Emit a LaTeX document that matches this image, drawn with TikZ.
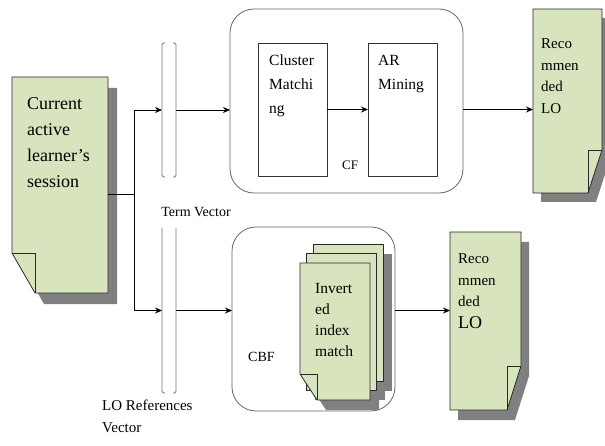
\documentclass[tikz,border=0pt]{standalone}
\usepackage{fontspec}
\setmainfont{Liberation Serif}
\usetikzlibrary{arrows.meta,calc}
\definecolor{lofill}{RGB}{215,228,189}
\definecolor{loshadow}{RGB}{128,128,128}
\definecolor{loline}{RGB}{40,40,40}
\tikzset{
  docframe/.style={rectangle, inner sep=0pt, outer sep=0pt},
  docbody/.style={fill=lofill, draw=loline, line width=.8pt},
  docshade/.style={fill=loshadow, draw=none},
  roundbox/.style={draw=black!60, line width=.8pt, rounded corners=24pt, fill=white, inner sep=0pt, outer sep=0pt},
  stepbox/.style={draw=black!80, line width=.8pt, fill=white, inner sep=0pt, outer sep=0pt},
  doctext/.style={anchor=north west, inner sep=0pt, align=left},
  vecline/.style={draw=black!55, line width=.9pt, rounded corners=1.5pt},
  link/.style={->, line width=.8pt},
}
\begin{document}
\begin{tikzpicture}[x=1pt, y=1pt, line join=round, >={Stealth[length=7pt,width=6pt]}]
\useasboundingbox (0,0) rectangle (605,445);
% frames and boxes
\node[docframe, minimum width=96pt, minimum height=216pt] (session) at (60,260) {};
\node[docframe, minimum width=14pt, minimum height=134pt] (termvec) at (169,335) {};
\node[docframe, minimum width=14pt, minimum height=165pt] (lovec) at (169,134.5) {};
\node[roundbox, minimum width=233pt, minimum height=184pt] (cfbox) at (346.5,344) {};
\node[roundbox, minimum width=163pt, minimum height=184pt] (cbfbox) at (313.5,126) {};
\node[stepbox, minimum width=69pt, minimum height=133pt] (cluster) at (292.5,335.5) {};
\node[stepbox, minimum width=69pt, minimum height=133pt] (armine) at (402.5,335.5) {};
\node[docframe, minimum width=69pt, minimum height=184pt] (recone) at (567.5,344) {};
\node[docframe, minimum width=71pt, minimum height=178pt] (rectwo) at (485.5,124) {};
\node[docframe, minimum width=70pt, minimum height=137pt] (pagec) at (348,132.5) {};
\node[docframe, minimum width=70pt, minimum height=137pt] (pageb) at (341,123.5) {};
\node[docframe, minimum width=70pt, minimum height=137pt] (pagea) at (335,113.5) {};

% learner session document
\def\sessionpath{(session.north west) -- (session.north east) -- (session.south east) -- ([xshift=23pt]session.south west) -- ([yshift=40pt]session.south west) -- cycle}
\fill[docshade, transform canvas={shift={(9pt,-11pt)}}] \sessionpath;
\draw[docbody] \sessionpath;
\draw[docbody, fill=none] ([yshift=40pt]session.south west) -- ([shift={(23pt,40pt)}]session.south west) -- ([xshift=23pt]session.south west);

% recommended LO documents
\def\reconepath{(recone.north west) -- (recone.north east) -- ([yshift=43pt]recone.south east) -- ([xshift=-14pt]recone.south east) -- (recone.south west) -- cycle}
\fill[docshade, transform canvas={shift={(8pt,-9pt)}}] \reconepath;
\draw[docbody] \reconepath;
\draw[docbody, fill=none] ([yshift=43pt]recone.south east) -- ([shift={(-14pt,43pt)}]recone.south east) -- ([xshift=-14pt]recone.south east);

\def\rectwopath{(rectwo.north west) -- (rectwo.north east) -- ([yshift=44pt]rectwo.south east) -- ([xshift=-14pt]rectwo.south east) -- (rectwo.south west) -- cycle}
\fill[docshade, transform canvas={shift={(8pt,-10pt)}}] \rectwopath;
\draw[docbody] \rectwopath;
\draw[docbody, fill=none] ([yshift=44pt]rectwo.south east) -- ([shift={(-14pt,44pt)}]rectwo.south east) -- ([xshift=-14pt]rectwo.south east);

% stacked pages
\def\pageapath{(pagea.north west) -- (pagea.north east) -- (pagea.south east) -- ([xshift=17pt]pagea.south west) -- ([yshift=26pt]pagea.south west) -- cycle}
\begin{scope}[transform canvas={shift={(9pt,-10pt)}}]
  \fill[docshade] (pagec.north west) rectangle (pagec.south east);
  \fill[docshade] (pageb.north west) rectangle (pageb.south east);
  \fill[docshade] \pageapath;
\end{scope}
\draw[docbody] (pagec.north west) rectangle (pagec.south east);
\draw[docbody] (pageb.north west) rectangle (pageb.south east);
\draw[docbody] \pageapath;
\draw[docbody, fill=none] ([yshift=26pt]pagea.south west) -- ([shift={(17pt,26pt)}]pagea.south west) -- ([xshift=17pt]pagea.south west);

% vectors
\draw[vecline] ([xshift=3pt]termvec.north west) -- (termvec.north west) -- (termvec.south west) -- ([xshift=3pt]termvec.south west);
\draw[vecline] ([xshift=-3pt]termvec.north east) -- (termvec.north east) -- (termvec.south east) -- ([xshift=-3pt]termvec.south east);
\draw[vecline] (lovec.north west) -- (lovec.south west) -- ([xshift=3pt]lovec.south west);
\draw[vecline] (lovec.north east) -- (lovec.south east) -- ([xshift=-3pt]lovec.south east);

% texts
\node[doctext, font=\fontsize{18}{26}\selectfont] (sessiontxt) at (27,348) {Current\\active\\learner’s\\session};
\node[doctext, font=\fontsize{15.5}{24}\selectfont] (clustertxt) at (269,390) {Cluster\\Matchi\\ng};
\node[doctext, font=\fontsize{15.5}{24}\selectfont] (armtxt) at (378,390) {AR\\Mining};
\node[doctext, font=\fontsize{15}{21.5}\selectfont] (reconetxt) at (541,406.5) {Reco\\mmen\\ded\\LO};
\node[doctext, font=\fontsize{15}{21.5}\selectfont] (rectwotxt) at (458,191.5) {Reco\\mmen\\ded\\{\fontsize{18}{21.5}\selectfont LO}};
\node[doctext, font=\fontsize{15.5}{21}\selectfont] (inverttxt) at (315,162) {Invert\\ed\\index\\match};
\node[anchor=west, inner sep=0pt, font=\fontsize{13}{15}\selectfont] (cflabel) at (342,280) {CF};
\node[anchor=west, inner sep=0pt, font=\fontsize{14}{16}\selectfont] (cbflabel) at (248,88) {CBF};
\node[inner sep=0pt, font=\fontsize{14}{16}\selectfont] (termlabel) at (196,233) {Term Vector};
\node[doctext, font=\fontsize{15}{22}\selectfont] (lolabel) at (102,45) {LO References\\Vector};

% connectors
\coordinate (split) at (134.5,251);
\draw[line width=.8pt] (split -| session.east) -- (split);
\draw[link] (split) |- (termvec.west);
\draw[link] (split) |- (lovec.west);
\draw[link] (termvec.east) -- (termvec.east -| cfbox.west);
\draw[link] (lovec.east) -- (lovec.east -| cbfbox.west);
\draw[link] (cluster.east) -- (armine.west);
\draw[link] (armine.east -| cfbox.east) -- (armine.east -| recone.west);
\draw[link] (lovec.east -| cbfbox.east) -- (lovec.east -| rectwo.west);
\end{tikzpicture}
\end{document}
